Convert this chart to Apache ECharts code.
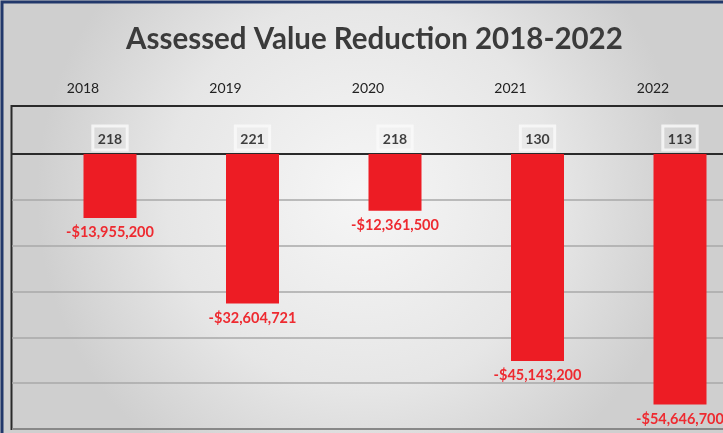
<!DOCTYPE html>
<html>
<head>
<meta charset="utf-8">
<script src="https://cdn.jsdelivr.net/npm/echarts@6/dist/echarts.min.js"></script>
<style>
  html, body { margin: 0; padding: 0; overflow: hidden; }
  #chart { width: 723px; height: 433px; }
</style>
</head>
<body>
<div id="chart"></div>
<script>
const years = ['2018', '2019', '2020', '2021', '2022'];
const reductions = [-13955200, -32604721, -12361500, -45143200, -54646700];
const parcelCounts = [218, 221, 218, 130, 113];

const yMin = -60000000;
const yMax = 0;
const yStep = 10000000;

const moneyFmt = new Intl.NumberFormat('en-US', {
  style: 'currency',
  currency: 'USD',
  maximumFractionDigits: 0
});

const font = 'Lato, "Open Sans", sans-serif';

// bars sit in a grid wider than the canvas so the bands line up with the picture
const barGrid = { left: 38.75, width: 712.5, top: 154, height: 275, outerBoundsMode: 'none' };

const chart = echarts.init(document.getElementById('chart'));

chart.setOption({
  animation: false,
  backgroundColor: {
    type: 'radial', x: 0.5, y: 0.45, r: 0.75,
    colorStops: [
      { offset: 0, color: '#f6f6f6' },
      { offset: 0.6, color: '#e6e6e6' },
      { offset: 1, color: '#cfcfcf' }
    ]
  },
  title: {
    text: 'Assessed Value Reduction 2018-2022',
    left: 121,
    top: 19,
    textStyle: { fontFamily: font, fontSize: 29.5, fontWeight: 'bold', color: '#3b3b3b' }
  },
  graphic: [
    {
      type: 'polyline', silent: true,
      shape: { points: [[740, 2], [2, 2], [2, 440]] },
      style: { fill: null, stroke: '#22386b', lineWidth: 3 }
    },
    {
      type: 'line', silent: true,
      shape: { x1: 11.5, y1: 106, x2: 740, y2: 106 },
      style: { stroke: '#2a2a2a', lineWidth: 2 }
    },
    {
      type: 'line', silent: true,
      shape: { x1: 11.5, y1: 105, x2: 11.5, y2: 430 },
      style: { stroke: '#2a2a2a', lineWidth: 2 }
    },
    {
      type: 'line', silent: true,
      shape: { x1: 11.5, y1: 429, x2: 740, y2: 429 },
      style: { stroke: '#2a2a2a', lineWidth: 2 }
    }
  ],
  grid: [
    { left: 12, width: 740, top: 154, height: 275, outerBoundsMode: 'none' },
    barGrid,
    { left: barGrid.left, width: barGrid.width, top: 106, height: 48, outerBoundsMode: 'none' }
  ],
  xAxis: [
    {
      gridIndex: 0, type: 'category', data: years, position: 'top',
      axisLine: { show: true, lineStyle: { color: '#2a2a2a', width: 2 } },
      axisTick: { show: false }, axisLabel: { show: false }
    },
    {
      gridIndex: 1, type: 'category', data: years, position: 'top',
      axisLine: { show: false }, axisTick: { show: false },
      axisLabel: {
        margin: 59,
        padding: [0, 54, 0, 0],
        fontFamily: font, fontSize: 14, color: '#222'
      }
    },
    {
      gridIndex: 2, type: 'category', data: years, show: false
    }
  ],
  yAxis: [
    {
      gridIndex: 0, type: 'value', min: yMin, max: yMax, interval: yStep,
      axisLine: { show: false }, axisTick: { show: false }, axisLabel: { show: false },
      splitLine: { lineStyle: { color: '#a9a9a9', width: 1.5 } }
    },
    {
      gridIndex: 1, type: 'value', min: yMin, max: yMax, interval: yStep,
      show: false, splitLine: { show: false }
    },
    {
      gridIndex: 2, type: 'value', min: 0, max: 1, show: false, splitLine: { show: false }
    }
  ],
  series: [
    {
      type: 'bar',
      xAxisIndex: 1, yAxisIndex: 1,
      data: reductions,
      barWidth: 53,
      itemStyle: { color: '#ed1c24' },
      label: {
        show: true,
        position: 'outside',
        distance: 7,
        fontFamily: font, fontSize: 14.5, fontWeight: 'bold', color: '#ee2a30',
        formatter: (p) => moneyFmt.format(p.value)
      }
    },
    {
      type: 'scatter',
      xAxisIndex: 2, yAxisIndex: 2,
      data: parcelCounts.map((c, i) => [i, 0, c]),
      symbolSize: 0,
      label: {
        show: true,
        position: 'top',
        distance: 4,
        fontFamily: font, fontSize: 14, fontWeight: 'bold', color: '#111',
        backgroundColor: 'rgba(255,255,255,0.12)',
        borderColor: '#fafafa', borderWidth: 1.5,
        padding: [6, 5, 4, 5],
        formatter: (p) => String(p.value[2])
      }
    }
  ]
});
</script>
</body>
</html>
